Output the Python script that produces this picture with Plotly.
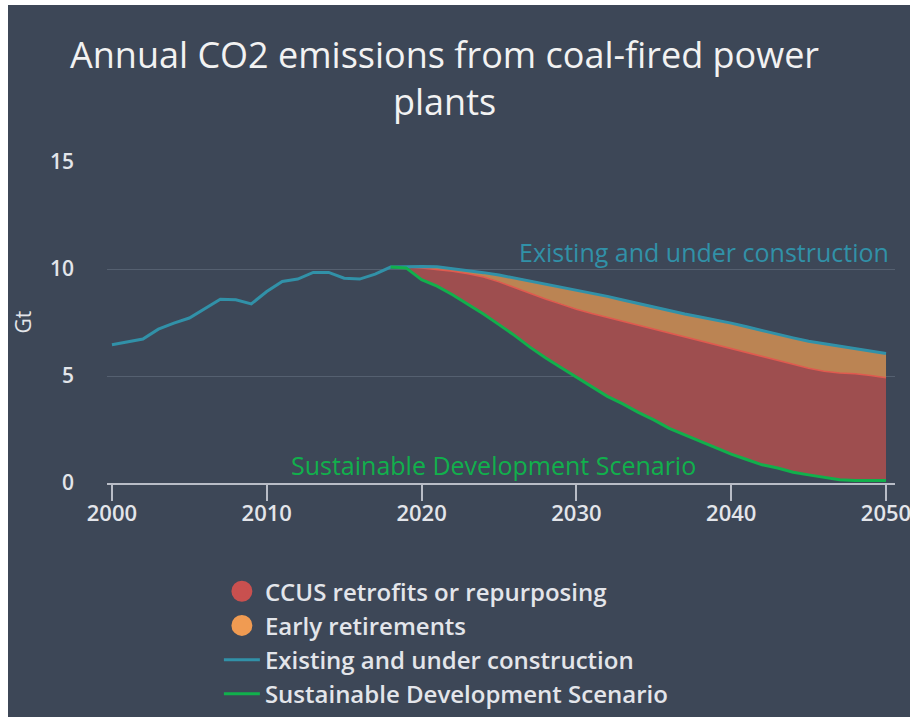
import plotly.graph_objects as go

# ---------------- data ----------------
years_all = list(range(2000, 2051))
existing = [6.46, 6.59, 6.73, 7.19, 7.47, 7.71, 8.17, 8.59, 8.56, 8.37,
            8.95, 9.42, 9.53, 9.84, 9.84, 9.57, 9.53, 9.76, 10.09, 10.12,
            10.12, 10.10, 10.02, 9.93, 9.83, 9.72, 9.58, 9.44, 9.30, 9.16,
            9.02, 8.88, 8.72, 8.55, 8.38, 8.22, 8.05, 7.90, 7.76, 7.62,
            7.47, 7.30, 7.12, 6.95, 6.78, 6.62, 6.50, 6.40, 6.28, 6.16,
            6.05]

years_proj = list(range(2018, 2051))
ccus_top = [10.09, 10.10, 10.05, 9.98, 9.90, 9.78, 9.63, 9.40, 9.13, 8.85,
            8.60, 8.36, 8.12, 7.92, 7.74, 7.55, 7.37, 7.18, 7.00, 6.82,
            6.64, 6.46, 6.28, 6.10, 5.92, 5.74, 5.55, 5.36, 5.22, 5.14,
            5.10, 5.02, 4.92]
sds = [10.09, 10.05, 9.50, 9.20, 8.80, 8.35, 7.90, 7.40, 6.90, 6.35,
       5.85, 5.40, 4.95, 4.50, 4.05, 3.70, 3.30, 2.95, 2.55, 2.25,
       1.95, 1.65, 1.35, 1.10, 0.85, 0.70, 0.50, 0.38, 0.25, 0.15,
       0.12, 0.12, 0.12]
existing_proj = existing[18:]

y_ticks = [0, 5, 10, 15]
x_ticks = [2000, 2010, 2020, 2030, 2040, 2050]

title = "Annual CO2 emissions from coal-fired power<br>plants"
names = ["CCUS retrofits or repurposing", "Early retirements",
         "Existing and under construction", "Sustainable Development Scenario"]

# ---------------- style ----------------
BG = "#3d4757"
RED_FILL = "#9e4e4f"
RED_LINE = "#e05a4f"
ORANGE_FILL = "#bb8453"
RED_DOT = "#c9504f"
ORANGE_DOT = "#f09b52"
TEAL = "#3191a8"
GREEN = "#11b04c"
TXT = "#e3e5ea"
FONT = "Open Sans"

fig = go.Figure()

# fill base (SDS)
fig.add_trace(go.Scatter(x=years_proj, y=sds, mode="lines",
                         line=dict(width=0, color=GREEN), showlegend=False,
                         hoverinfo="skip"))
# CCUS area
fig.add_trace(go.Scatter(x=years_proj, y=ccus_top, mode="lines", fill="tonexty",
                         fillcolor=RED_FILL, line=dict(width=1.5, color=RED_LINE),
                         showlegend=False, hoverinfo="skip"))
# Early retirement area
fig.add_trace(go.Scatter(x=years_proj, y=existing_proj, mode="lines", fill="tonexty",
                         fillcolor=ORANGE_FILL, line=dict(width=1.5, color="#e09050"),
                         showlegend=False, hoverinfo="skip"))

# lines
fig.add_trace(go.Scatter(x=years_all, y=existing, mode="lines",
                         line=dict(width=3, color=TEAL), name=names[2],
                         legendrank=3))
fig.add_trace(go.Scatter(x=years_proj, y=sds, mode="lines",
                         line=dict(width=3, color=GREEN), name=names[3],
                         legendrank=4))

# legend-only dots for areas
fig.add_trace(go.Scatter(x=[None], y=[None], mode="markers",
                         marker=dict(size=16, color=RED_DOT, symbol="circle",
                                     line=dict(width=5, color=RED_DOT)),
                         name=names[0], legendrank=1))
fig.add_trace(go.Scatter(x=[None], y=[None], mode="markers",
                         marker=dict(size=16, color=ORANGE_DOT, symbol="circle",
                                     line=dict(width=5, color=ORANGE_DOT)),
                         name=names[1], legendrank=2))

# title
fig.add_annotation(x=0.4288, y=1.2613, xref="paper", yref="paper",
                   text=title, showarrow=False, align="center",
                   xanchor="center", yanchor="middle",
                   font=dict(family=FONT, size=36, color="#f2f2f2"))

fig.add_annotation(x=2050.3, y=10.8, xref="x", yref="y", text=names[2],
                   showarrow=False, xanchor="right", yanchor="middle",
                   font=dict(family=FONT, size=25, color=TEAL))
fig.add_annotation(x=2024.64, y=0.86, xref="x", yref="y", text=names[3],
                   showarrow=False, xanchor="center", yanchor="middle",
                   font=dict(family=FONT, size=25, color=GREEN))
fig.add_annotation(x=0, y=0.5, xref="paper", yref="paper", text="Gt",
                   showarrow=False, xanchor="center", yanchor="middle",
                   xshift=-85, textangle=-90,
                   font=dict(family=FONT, size=21, color=TXT))

fig.update_layout(
    width=902, height=712,
    paper_bgcolor=BG, plot_bgcolor=BG,
    margin=dict(l=99, r=15, t=157, b=234, pad=0, autoexpand=False),
    font=dict(family=FONT, color=TXT),
    showlegend=True,
    legend=dict(x=0.142, xanchor="left", y=-0.7263, yanchor="bottom",
                orientation="v", traceorder="normal",
                font=dict(family=FONT, size=24, color=TXT, weight=600),
                bgcolor="rgba(0,0,0,0)", itemwidth=36),
    xaxis=dict(range=[1999.68, 2050.58], tickvals=x_ticks,
               showgrid=False, zeroline=False, showline=True,
               linecolor="#b9bdc7", linewidth=2, automargin=False,
               ticks="outside", ticklen=16, tickwidth=2, tickcolor="#b9bdc7",
               tickfont=dict(family=FONT, size=22, color=TXT, weight=600),
               ticklabelstandoff=-6, ticklabeloverflow="allow",
               fixedrange=True),
    yaxis=dict(range=[0, 15], tickvals=y_ticks, showgrid=True, automargin=False,
               gridcolor="#556070", gridwidth=1, zeroline=False, showline=False,
               tickfont=dict(family=FONT, size=21, color=TXT, weight=600),
               ticklabelstandoff=32, fixedrange=True),
)

fig.write_html("out.html",
               post_script="document.body.style.margin='5px 0 0 8px';")
